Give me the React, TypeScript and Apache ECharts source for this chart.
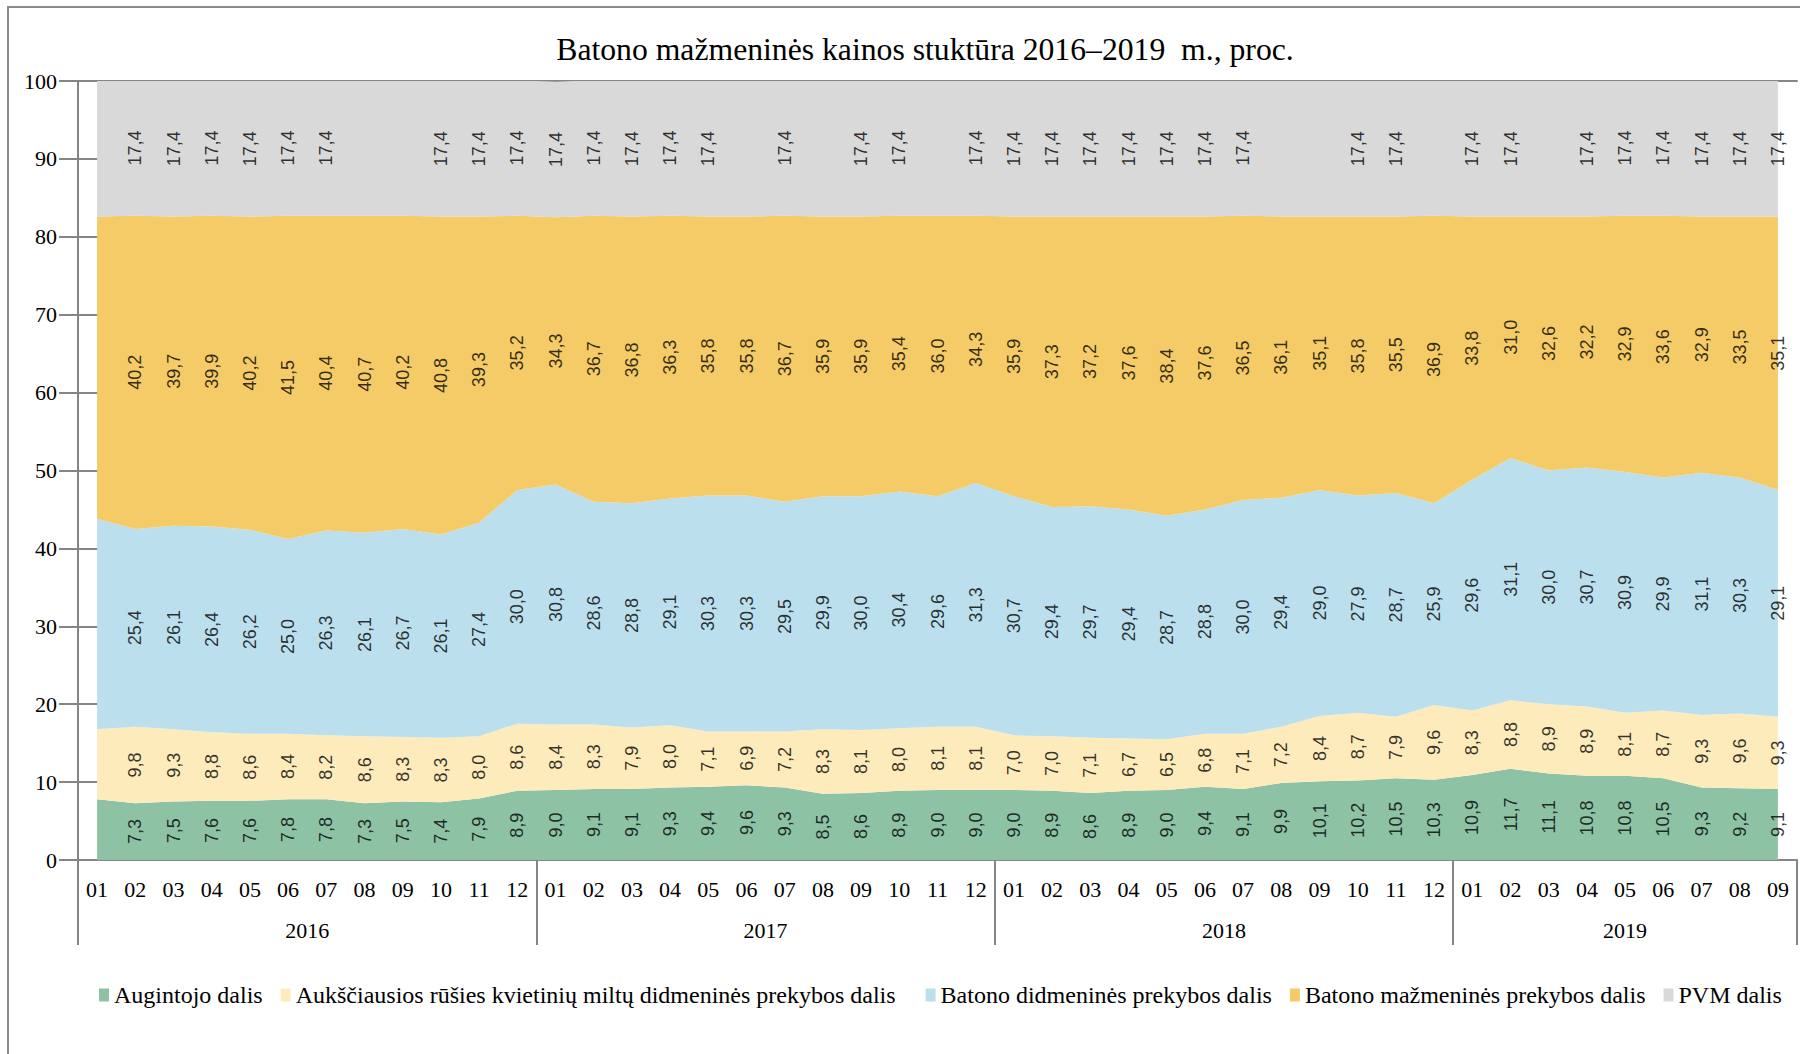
import React, { useEffect, useRef } from "react";
import * as echarts from "echarts";

// ---- Data ----
const monthLabels = [
  "01", "02", "03", "04", "05", "06", "07", "08", "09", "10", "11", "12",
  "01", "02", "03", "04", "05", "06", "07", "08", "09", "10", "11", "12",
  "01", "02", "03", "04", "05", "06", "07", "08", "09", "10", "11", "12",
  "01", "02", "03", "04", "05", "06", "07", "08", "09",
];
const yearLabels = ["2016", "2017", "2018", "2019"];
const monthsPerYear = [12, 12, 12, 9];

const growerShare = [
  7.8, 7.3, 7.5, 7.6, 7.6, 7.8, 7.8, 7.3, 7.5, 7.4, 7.9, 8.9,
  9.0, 9.1, 9.1, 9.3, 9.4, 9.6, 9.3, 8.5, 8.6, 8.9, 9.0, 9.0,
  9.0, 8.9, 8.6, 8.9, 9.0, 9.4, 9.1, 9.9, 10.1, 10.2, 10.5, 10.3,
  10.9, 11.7, 11.1, 10.8, 10.8, 10.5, 9.3, 9.2, 9.1,
];
const flourShare = [
  9.0, 9.8, 9.3, 8.8, 8.6, 8.4, 8.2, 8.6, 8.3, 8.3, 8.0, 8.6,
  8.4, 8.3, 7.9, 8.0, 7.1, 6.9, 7.2, 8.3, 8.1, 8.0, 8.1, 8.1,
  7.0, 7.0, 7.1, 6.7, 6.5, 6.8, 7.1, 7.2, 8.4, 8.7, 7.9, 9.6,
  8.3, 8.8, 8.9, 8.9, 8.1, 8.7, 9.3, 9.6, 9.3,
];
const wholesaleShare = [
  27.0, 25.4, 26.1, 26.4, 26.2, 25.0, 26.3, 26.1, 26.7, 26.1, 27.4, 30.0,
  30.8, 28.6, 28.8, 29.1, 30.3, 30.3, 29.5, 29.9, 30.0, 30.4, 29.6, 31.3,
  30.7, 29.4, 29.7, 29.4, 28.7, 28.8, 30.0, 29.4, 29.0, 27.9, 28.7, 25.9,
  29.6, 31.1, 30.0, 30.7, 30.9, 29.9, 31.1, 30.3, 29.1,
];
const retailShare = [
  38.8, 40.2, 39.7, 39.9, 40.2, 41.5, 40.4, 40.7, 40.2, 40.8, 39.3, 35.2,
  34.3, 36.7, 36.8, 36.3, 35.8, 35.8, 36.7, 35.9, 35.9, 35.4, 36.0, 34.3,
  35.9, 37.3, 37.2, 37.6, 38.4, 37.6, 36.5, 36.1, 35.1, 35.8, 35.5, 36.9,
  33.8, 31.0, 32.6, 32.2, 32.9, 33.6, 32.9, 33.5, 35.1,
];
const vatShare = [
  17.4, 17.4, 17.4, 17.4, 17.4, 17.4, 17.4, 17.4, 17.4, 17.4, 17.4, 17.4,
  17.4, 17.4, 17.4, 17.4, 17.4, 17.4, 17.4, 17.4, 17.4, 17.4, 17.4, 17.4,
  17.4, 17.4, 17.4, 17.4, 17.4, 17.4, 17.4, 17.4, 17.4, 17.4, 17.4, 17.4,
  17.4, 17.4, 17.4, 17.4, 17.4, 17.4, 17.4, 17.4, 17.4,
];
// months without data labels
const unlabeledAll = [0];
const unlabeledVat = [0, 7, 8, 17, 19, 22, 31, 32, 35, 38];

const seriesNames = [
  "Augintojo dalis",
  "Aukščiausios rūšies kvietinių miltų didmeninės prekybos dalis",
  "Batono didmeninės prekybos dalis",
  "Batono mažmeninės prekybos dalis",
  "PVM dalis",
];
const seriesColors = ["#8dc2a5", "#fdebbb", "#bcdfee", "#f4cb66", "#d9d9d9"];
const seriesValues = [growerShare, flourShare, wholesaleShare, retailShare, vatShare];
const seriesHidden = [unlabeledAll, unlabeledAll, unlabeledAll, unlabeledAll, unlabeledVat];

const titleText = "Batono mažmeninės kainos stuktūra 2016–2019  m., proc.";

const fmt = (v: number) => v.toFixed(1).replace(".", ",");

export default function App() {
  const ref = useRef<HTMLDivElement>(null);

  useEffect(() => {
    if (!ref.current) return;
    const chart = echarts.init(ref.current, undefined, { renderer: "svg" });

    const n = monthLabels.length;
    const yearBounds: number[] = [0];
    monthsPerYear.forEach((m) => yearBounds.push(yearBounds[yearBounds.length - 1] + m));
    const yearCenters = yearLabels.map((_, i) => (yearBounds[i] + yearBounds[i + 1]) / 2);

    const axisGrey = "#858585";
    const serif = "Liberation Serif";

    const areaSeries = seriesNames.map((name, k) => ({
      name,
      type: "line",
      stack: "total",
      data: seriesValues[k],
      symbol: "none",
      color: seriesColors[k],
      lineStyle: { width: 0 },
      areaStyle: { color: seriesColors[k], opacity: 1 },
      emphasis: { disabled: true },
      silent: true,
      z: 2,
    }));

    const cum = new Array(n).fill(0);
    const labelSeries = seriesNames.map((name, k) => {
      const pts: any[] = [];
      for (let i = 0; i < n; i++) {
        const v = seriesValues[k][i];
        if (!seriesHidden[k].includes(i)) pts.push([i, cum[i] + v / 2, v]);
        cum[i] += v;
      }
      return {
        name: "lbl-" + k,
        type: "scatter",
        data: pts,
        symbolSize: 2,
        itemStyle: { color: "rgba(0,0,0,0)" },
        silent: true,
        z: 5,
        labelLayout: { hideOverlap: false },
        label: {
          show: true,
          position: "inside",
          rotate: 90,
          formatter: (p: any) => fmt(p.value[2]),
          fontFamily: "Liberation Sans",
          fontSize: 18,
          color: "#000",
        },
      };
    });

    const longName = seriesNames[1];

    chart.setOption({
      animation: false,
      backgroundColor: "#fff",
      grid: { left: 78, right: 3, top: 81, bottom: 194, containLabel: false, outerBoundsMode: "none" },
      legend: {
        data: seriesNames,
        left: 99,
        top: 983,
        padding: 0,
        icon: "rect",
        itemWidth: 10,
        itemHeight: 13,
        itemGap: 18,
        selectedMode: false,
        formatter: (name: string) => (name === longName ? name + "  " : name),
        textStyle: { fontFamily: serif, fontSize: 24, color: "#000" },
      },
      xAxis: [
        {
          type: "category",
          data: monthLabels,
          boundaryGap: true,
          position: "bottom",
          axisLine: { show: true, lineStyle: { color: axisGrey, width: 2 } },
          axisTick: { show: false },
          axisLabel: { interval: 0, margin: 18, fontFamily: serif, fontSize: 22, color: "#000" },
          splitLine: { show: false },
        },
        {
          type: "value",
          min: 0,
          max: n,
          position: "bottom",
          axisLine: { show: false },
          axisTick: {
            show: true,
            customValues: yearBounds,
            length: 85,
            lineStyle: { color: axisGrey, width: 2 },
          },
          axisLabel: {
            show: true,
            customValues: yearCenters,
            margin: 59,
            fontFamily: serif,
            fontSize: 22,
            color: "#000",
            formatter: (v: number) => {
              const idx = yearCenters.findIndex((c) => Math.abs(c - v) < 1e-6);
              return idx >= 0 ? yearLabels[idx] : "";
            },
          },
          splitLine: { show: false },
        },
        {
          type: "value",
          min: 0,
          max: n,
          position: "top",
          axisLine: { show: true, lineStyle: { color: axisGrey, width: 2 } },
          axisTick: { show: false },
          axisLabel: { show: false },
          splitLine: { show: false },
        },
      ],
      yAxis: [
        {
          type: "value",
          min: 0,
          max: 100,
          interval: 10,
          position: "left",
          axisLine: { show: true, lineStyle: { color: axisGrey, width: 2 } },
          axisTick: { show: true, inside: true, length: 20, lineStyle: { color: axisGrey, width: 2 } },
          axisLabel: { margin: 21, fontFamily: serif, fontSize: 22, color: "#000" },
          splitLine: { show: false },
        },
        {
          type: "value",
          min: 0,
          max: 100,
          interval: 10,
          position: "right",
          axisLine: { show: false },
          axisTick: { show: true, inside: true, length: 19, lineStyle: { color: axisGrey, width: 2 } },
          axisLabel: { show: false },
          splitLine: { show: false },
        },
      ],
      series: [...areaSeries, ...labelSeries],
      graphic: [
        {
          type: "rect",
          shape: { x: 8, y: 7, width: 1840, height: 1100 },
          style: { fill: "none", stroke: "#8a8a8a", lineWidth: 2 },
          silent: true,
          z: -1,
        },
        {
          type: "text",
          x: 925,
          y: 49,
          style: {
            text: titleText,
            fontFamily: serif,
            fontSize: 31.7,
            fill: "#000",
            align: "center",
            verticalAlign: "middle",
          },
          silent: true,
        },
      ],
    });

    return () => chart.dispose();
  }, []);

  return (
    <div
      ref={ref}
      style={{ position: "absolute", left: 0, top: 0, width: 1800, height: 1054, background: "#fff" }}
    />
  );
}
